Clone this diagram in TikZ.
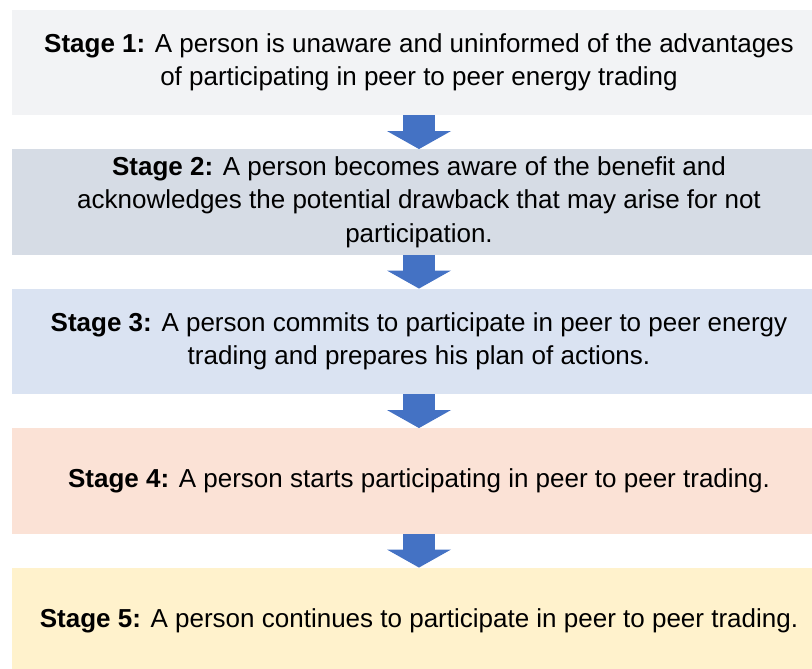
\documentclass[tikz,border=0pt]{standalone}
\usepackage{fontspec}
\setmainfont{Liberation Sans}
\usetikzlibrary{arrows.meta}

\definecolor{gray1}{RGB}{242,243,245}
\definecolor{slate1}{RGB}{214,220,229}
\definecolor{blue2}{RGB}{218,227,242}
\definecolor{peach1}{RGB}{251,226,214}
\definecolor{cream1}{RGB}{255,242,204}
\definecolor{blue1}{RGB}{68,114,196}
\tikzstyle{stage} = [rectangle, align=center, minimum width=814pt, minimum height=105.5pt, inner sep=0pt, font=\fontsize{26}{33.5}\selectfont]
\tikzstyle{arrow} = [draw, color=blue1, line width=32pt, -{Triangle[width=64pt, length=18pt, line width=0pt]}]

\begin{document}
\begin{tikzpicture}[node distance=139.5pt, x=1pt, y=1pt]
	\useasboundingbox (0,0) rectangle (812,-669);
	\clip (0,0) rectangle (812,-669);

	\node [stage, fill=gray1] (unaware) at (419,-62.5) {\textbf{Stage 1:} A person is unaware and uninformed of the advantages\\of participating in peer to peer energy trading};
	\node [stage, fill=slate1, below of=unaware] (aware) {\textbf{Stage 2:} A person becomes aware of the benefit and\\acknowledges the potential drawback that may arise for not\\participation.};
	\node [stage, fill=blue2, below of=aware] (commit) {\textbf{Stage 3:} A person commits to participate in peer to peer energy\\trading and prepares his plan of actions.};
	\node [stage, fill=peach1, below of=commit] (start) {\textbf{Stage 4:} A person starts participating in peer to peer trading.};
	\node [stage, fill=cream1, below of=start] (keepon) {\textbf{Stage 5:} A person continues to participate in peer to peer trading.};

	% Arrows between stages
	\draw [arrow] (unaware.south) to (aware.north);
	\draw [arrow] (aware.south) to (commit.north);
	\draw [arrow] (commit.south) to (start.north);
	\draw [arrow] (start.south) to (keepon.north);
\end{tikzpicture}
\end{document}
